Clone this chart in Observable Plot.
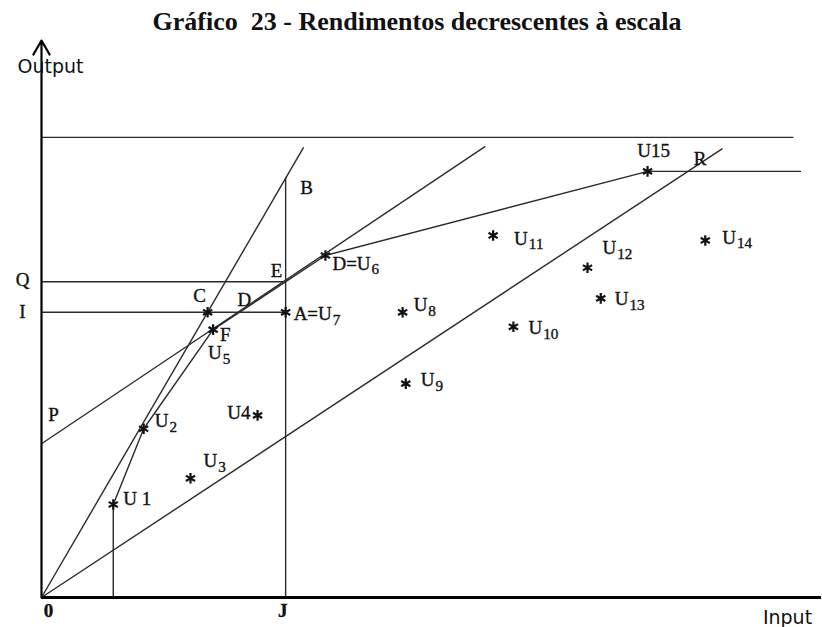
<!DOCTYPE html>
<html><head><meta charset="utf-8">
<script src="https://cdn.jsdelivr.net/npm/d3@7"></script>
<script src="https://cdn.jsdelivr.net/npm/@observablehq/plot@0.6"></script>
<style>
body{margin:0;background:#fff;}
#title{height:36px;box-sizing:border-box;padding-left:12px;padding-top:7px;line-height:28px;text-align:center;font:bold 26px "Liberation Serif",serif;color:#111;white-space:pre;}
</style></head><body>
<div id="title">Gráfico  23 - Rendimentos decrescentes à escala</div>
<div id="chart"></div>
<script>
// ---- data (input on x, output on y, arbitrary units 0–100) ----
const unitNames  = ["U1","U2","U3","U4","U5","U6","U7","U8","U9","U10","U11","U12","U13","U14","U15"];
const unitInput  = [9.2, 13.1, 19.1, 27.7, 22.0, 36.4, 31.3, 46.3, 46.7, 60.5, 57.9, 70.0, 71.7, 85.1, 77.7];
const unitOutput = [16.7, 30.3, 21.4, 32.7, 48.1, 61.4, 51.2, 51.2, 38.4, 48.6, 65.0, 59.2, 53.7, 64.1, 76.5];
const pointC = {x: 21.3, y: 51.2};
const frontierUnits = ["U1","U2","U5","U6","U15"];   // variable-returns frontier
const frontierEndInput = 97.3;
const rayB = {x: 33.6, y: 80.8};     // constant-returns ray O–B
const rayR = {x: 87.3, y: 80.6};     // ray O–R
const pointR = {x: 82.9, y: 76.5};
const lineP = {x1: 0, y1: 27.6, x2: 56.9, y2: 81.0};
const levelQ = 56.7, levelI = 51.2, inputJ = 31.3, outputB = 75.5;
const topLevel = 82.6, topEnd = 96.4;

const units = unitNames.map((n,i) => ({name:n, x:unitInput[i], y:unitOutput[i]}));
const U = Object.fromEntries(units.map(d => [d.name, d]));
const frontier = [{x:U.U1.x, y:0}, ...frontierUnits.map(n => U[n]), {x:frontierEndInput, y:U.U15.y}];
const segments = [
  {x1:0, y1:0, x2:rayB.x, y2:rayB.y},
  {x1:0, y1:0, x2:rayR.x, y2:rayR.y},
  lineP,
  {x1:0, y1:levelQ, x2:inputJ, y2:levelQ},
  {x1:0, y1:levelI, x2:inputJ, y2:levelI},
  {x1:inputJ, y1:0, x2:inputJ, y2:outputB},
  {x1:0, y1:topLevel, x2:topEnd, y2:topLevel}
];

// ---- annotations (anchor + pixel offset) ----
const labels = [
  {t:"U 1",  at:U.U1,  dx:10, dy:-6},
  {t:"U_2",  at:U.U2,  dx:11, dy:-8},
  {t:"U_3",  at:U.U3,  dx:13, dy:-17},
  {t:"U4",   at:U.U4,  dx:-7, dy:-2, a:"end"},
  {t:"F",    at:U.U5,  dx:7,  dy:5},
  {t:"U_5",  at:U.U5,  dx:-5, dy:23},
  {t:"C",    at:pointC, dx:-8, dy:-16, a:"middle"},
  {t:"D",    at:{x:25.1, y:levelI}, dx:7, dy:-12, a:"middle"},
  {t:"E",    at:{x:inputJ, y:levelQ}, dx:-9, dy:-11, a:"middle"},
  {t:"B",    at:{x:inputJ, y:outputB}, dx:21, dy:11, a:"middle"},
  {t:"A=U_7",at:U.U7,  dx:8,  dy:2},
  {t:"D=U_6",at:U.U6,  dx:7,  dy:8},
  {t:"U_8",  at:U.U8,  dx:11, dy:-7},
  {t:"U_9",  at:U.U9,  dx:15, dy:-4},
  {t:"U_10", at:U.U10, dx:15, dy:1},
  {t:"U_11", at:U.U11, dx:21, dy:3},
  {t:"U_12", at:U.U12, dx:15, dy:-20},
  {t:"U_13", at:U.U13, dx:14, dy:1},
  {t:"U_14", at:U.U14, dx:17, dy:-3},
  {t:"U15",  at:U.U15, dx:6,  dy:-20, a:"middle"},
  {t:"R",    at:pointR, dx:12, dy:-12, a:"middle"},
  {t:"Q",    at:{x:0, y:levelQ}, dx:-19, dy:-2, a:"middle"},
  {t:"I",    at:{x:0, y:levelI}, dx:-19, dy:0, a:"middle"},
  {t:"P",    at:{x:0, y:lineP.y1}, dx:12, dy:-29, a:"middle"},
  {t:"0",    at:{x:0, y:0}, dx:7, dy:13, a:"middle", w:"bold"},
  {t:"J",    at:{x:inputJ, y:0}, dx:-3, dy:13, a:"middle", w:"bold"}
];

const ink = "#2a2a2a";
const marks = [
  Plot.link(segments, {x1:"x1", y1:"y1", x2:"x2", y2:"y2", stroke:ink, strokeWidth:1.4}),
  Plot.line(frontier, {x:"x", y:"y", stroke:ink, strokeWidth:1.4}),
  Plot.ruleY([0], {stroke:"#000", strokeWidth:2.8}),
  Plot.arrow([{x1:0,y1:0,x2:0,y2:100}], {x1:"x1", y1:"y1", x2:"x2", y2:"y2", stroke:"#000", strokeWidth:2.2, headLength:11}),
  Plot.dot([...units, pointC], {x:"x", y:"y", symbol:"asterisk", r:5, stroke:"#111", strokeWidth:2.2}),
  ...labels.map(l => Plot.text([l], {x:d => d.at.x, y:d => d.at.y, text:"t", dx:l.dx, dy:l.dy,
      textAnchor:l.a || "start", fontSize:19, fontWeight:l.w || "normal", fill:"#111",
      stroke:"#111", strokeWidth:0.35})),
  Plot.text([{x:0, y:100}], {x:"x", y:"y", text:() => "Output", dx:9, dy:26, textAnchor:"middle",
      fontFamily:"DejaVu Sans", fontSize:19, fill:"#111"}),
  Plot.text([{x:100, y:0}], {x:"x", y:"y", text:() => "Input", dx:-34, dy:20, textAnchor:"middle",
      fontFamily:"DejaVu Sans", fontSize:19, fill:"#111"})
];

const chart = Plot.plot({
  width: 822, height: 591,
  marginLeft: 41, marginRight: 1, marginTop: 4, marginBottom: 30,
  x: {domain: [0, 100], axis: null},
  y: {domain: [0, 100], axis: null},
  style: {fontFamily: "Liberation Serif", background: "#fff", overflow: "visible"},
  marks
});

chart.querySelectorAll("text").forEach(t => {
  const s = t.textContent;
  if (s.includes("_")) {
    const [a, b] = s.split("_");
    t.textContent = a;
    const ts = document.createElementNS("http://www.w3.org/2000/svg", "tspan");
    ts.setAttribute("font-size", "0.8em");
    ts.setAttribute("dy", "0.32em");
    ts.setAttribute("dx", "1");
    ts.textContent = b;
    t.appendChild(ts);
  }
});
document.getElementById("chart").appendChild(chart);
</script></body></html>
